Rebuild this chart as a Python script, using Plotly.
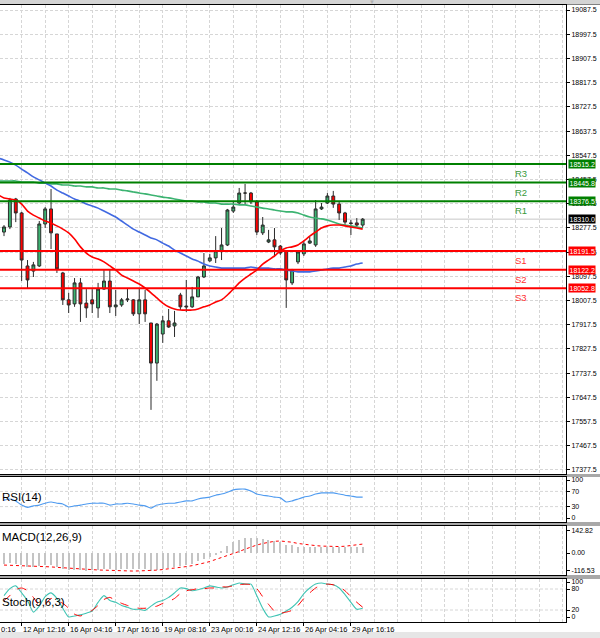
import plotly.graph_objects as go

W, H = 600, 638

# ---------------- data ----------------
candle_idx = list(range(62))
opens = [18262, 18281, 18385, 18333, 18136, 18117, 18136, 18292, 18348, 18255,
         18110, 18010, 17995, 18073, 17998, 18010, 17980, 18050, 18080, 17984,
         17991, 18010, 18010, 17958, 18010, 17924, 17775, 17883, 17932, 17913,
         18028, 17987, 17984, 18021, 18095, 18155, 18166, 18192, 18214, 18340,
         18370, 18407, 18407, 18374, 18259, 18225, 18233, 18210, 18192, 18073,
         18151, 18181, 18221, 18214, 18348, 18370, 18396, 18366, 18333, 18296,
         18296, 18288]
highs = [18288, 18389, 18389, 18337, 18158, 18151, 18303, 18355, 18422, 18255,
         18114, 18036, 18091, 18091, 18050, 18050, 18073, 18121, 18121, 18047,
         18017, 18054, 18013, 18054, 18047, 17924, 17924, 17950, 17976, 17969,
         18036, 18084, 18058, 18099, 18184, 18181, 18247, 18277, 18348, 18374,
         18426, 18441, 18411, 18381, 18318, 18270, 18277, 18214, 18195, 18125,
         18195, 18229, 18244, 18381, 18370, 18407, 18415, 18374, 18337, 18307,
         18314, 18314]
lows = [18247, 18273, 18299, 18080, 18054, 18095, 18132, 18277, 18199, 18110,
        17991, 17961, 17984, 17928, 17943, 17961, 17943, 18047, 17961, 17950,
        17984, 18002, 17950, 17920, 17928, 17601, 17709, 17850, 17906, 17872,
        17972, 17965, 17980, 18021, 18091, 18151, 18147, 18158, 18210, 18333,
        18363, 18363, 18366, 18251, 18251, 18221, 18169, 18177, 17980, 18065,
        18143, 18173, 18218, 18207, 18344, 18366, 18352, 18307, 18288, 18251,
        18281, 18277]
closes = [18281, 18381, 18333, 18158, 18084, 18140, 18292, 18348, 18259, 18125,
          18010, 17991, 18073, 17995, 17980, 17995, 18050, 18080, 17984, 17991,
          18010, 18013, 17958, 18010, 17958, 17775, 17920, 17932, 17909, 17924,
          17984, 17984, 18021, 18095, 18136, 18166, 18192, 18214, 18344, 18355,
          18407, 18407, 18374, 18262, 18288, 18233, 18207, 18184, 18084, 18121,
          18188, 18218, 18229, 18348, 18355, 18396, 18366, 18333, 18299, 18294,
          18288, 18310]

ma_idx = list(range(-1, 62))
ma_red = [18400, 18389, 18385, 18381, 18366, 18340, 18325, 18314, 18303, 18296,
          18285, 18273, 18259, 18236, 18207, 18184, 18169, 18162, 18151, 18136,
          18121, 18102, 18091, 18080, 18069, 18054, 18036, 18017, 17998, 17984,
          17976, 17972, 17972, 17972, 17976, 17984, 17991, 18002, 18010, 18028,
          18050, 18073, 18091, 18106, 18121, 18143, 18158, 18173, 18192, 18203,
          18207, 18214, 18229, 18247, 18262, 18277, 18285, 18288, 18288, 18285,
          18281, 18277, 18273]
ma_blue = [18537, 18530, 18522, 18511, 18496, 18482, 18467, 18456, 18444, 18433,
           18418, 18407, 18396, 18385, 18377, 18366, 18359, 18351, 18340, 18329,
           18318, 18303, 18288, 18273, 18262, 18251, 18240, 18233, 18221, 18210,
           18195, 18184, 18173, 18162, 18154, 18143, 18136, 18132, 18128, 18128,
           18128, 18128, 18128, 18132, 18128, 18128, 18128, 18125, 18125, 18121,
           18117, 18114, 18114, 18114, 18117, 18121, 18125, 18128, 18128, 18132,
           18136, 18143, 18147]
ma_green = [18452, 18452, 18452, 18452, 18448, 18448, 18448, 18444, 18444, 18441,
            18441, 18437, 18437, 18433, 18433, 18430, 18430, 18426, 18426, 18422,
            18422, 18418, 18415, 18411, 18407, 18404, 18400, 18396, 18392, 18389,
            18385, 18381, 18377, 18377, 18374, 18374, 18370, 18370, 18366, 18366,
            18366, 18363, 18363, 18359, 18355, 18351, 18348, 18344, 18340, 18337,
            18337, 18333, 18325, 18318, 18314, 18311, 18307, 18299, 18292, 18288,
            18285, 18281, 18277]

rsi = [47, 50, 45, 34, 28, 32, 34, 39, 42, 39, 37, 29, 32, 34, 37, 39, 39, 39, 34, 37,
       37, 39, 37, 34, 32, 26, 34, 37, 39, 39, 42, 45, 45, 50, 53, 55, 60, 63, 68, 74,
       76, 76, 71, 63, 60, 58, 55, 53, 42, 45, 50, 55, 58, 63, 66, 66, 66, 63, 60, 58,
       55, 55]
macd_hist = [-70, -66, -68, -78, -88, -92, -85, -76, -80, -92, -104, -112, -110, -112,
             -114, -112, -108, -102, -106, -108, -105, -102, -105, -102, -106, -116,
             -110, -102, -98, -92, -84, -78, -68, -54, -40, -26, -10, 15, 45, 70, 85,
             95, 98, 97, 90, 84, 75, 70, 55, 50, 42, 40, 40, 42, 42, 41, 40, 39, 38,
             37, 36, 36]
macd_signal = [-78, -79, -80, -81, -82, -84, -86, -88, -90, -93, -96, -98, -101, -104,
               -106, -108, -110, -111, -113, -114, -115, -116, -117, -116, -115, -113,
               -111, -107, -103, -98, -93, -88, -82, -75, -65, -55, -43, -30, -18, -5,
               10, 25, 40, 52, 62, 70, 76, 78, 76, 70, 62, 56, 52, 48, 45, 43, 42, 42,
               44, 47, 52, 58]
stoch_main = [61, 81, 89, 69, 47, 14, 31, 58, 69, 53, 25, 0, 3, 6, 11, 17, 42, 61, 47, 42,
              33, 28, 22, 22, 19, 31, 42, 47, 56, 69, 83, 81, 75, 78, 83, 89, 86, 83, 86, 92,
              97, 94, 94, 61, 25, 0, 3, 8, 17, 28, 44, 67, 83, 94, 97, 94, 92, 83, 64, 42,
              22, 25]
stoch_signal = [47, 61, 78, 83, 75, 56, 33, 36, 53, 47, 39, 25, 8, 3, 11, 19, 33, 50, 56, 47,
                39, 33, 28, 25, 25, 28, 31, 39, 44, 53, 67, 75, 78, 81, 81, 83, 83, 86, 86, 89,
                92, 94, 92, 81, 58, 36, 17, 11, 14, 19, 33, 53, 69, 83, 92, 94, 92, 86, 75, 58,
                42, 28]

resist_names = ["R1", "R2", "R3"]
resist_levels = [18376.5, 18445.8, 18515.2]
support_names = ["S1", "S2", "S3"]
support_levels = [18191.5, 18122.2, 18052.8]
last_price = 18310.0

price_ticks = [19087.5, 18997.5, 18907.5, 18817.5, 18727.5, 18637.5, 18547.5, 18457.5,
               18367.5, 18277.5, 18187.5, 18097.5, 18007.5, 17917.5, 17827.5, 17737.5,
               17647.5, 17557.5, 17467.5, 17377.5]
rsi_ticks = [100, 70, 30, 0]
rsi_levels = [70, 30]
macd_ticks = [142.82, 0.0, -116.53]
stoch_ticks = [100, 80, 20, 0]
stoch_levels = [80, 20]

date_label_idx = [3, 11, 19, 27, 35, 43, 51, 59]
date_labels = ["12 Apr 12:16", "16 Apr 04:16", "17 Apr 16:16", "19 Apr 08:16",
               "23 Apr 00:16", "24 Apr 12:16", "26 Apr 04:16", "29 Apr 16:16"]
grid_idx = list(range(3, 96, 4))

# ---------------- layout helpers ----------------
FONT = "Liberation Sans, Arial, sans-serif"
def py(ypx):
    return 1 - ypx / H

X_RANGE = [-0.68, 95.58]
panels = {  # pixel top, bottom
    "main": (5, 474), "rsi": (477, 522), "macd": (526, 575), "stoch": (579, 622)}

fig = go.Figure()

fig.add_trace(go.Candlestick(
    x=candle_idx, open=opens, high=highs, low=lows, close=closes,
    increasing=dict(line=dict(color="#2b2b2b", width=1), fillcolor="#3CB371"),
    decreasing=dict(line=dict(color="#2b2b2b", width=1), fillcolor="#FF0000"),
    whiskerwidth=0, showlegend=False, hoverinfo="skip", xaxis="x", yaxis="y"))

for vals, col in [(ma_green, "#3CB371"), (ma_blue, "#4169E1"), (ma_red, "#FF0000")]:
    fig.add_trace(go.Scatter(x=ma_idx, y=vals, mode="lines",
                             line=dict(color=col, width=1.6, shape="spline", smoothing=0.6),
                             showlegend=False, hoverinfo="skip", xaxis="x", yaxis="y"))

fig.add_trace(go.Scatter(x=candle_idx, y=rsi, mode="lines",
                         line=dict(color="#4F9BF0", width=1.1, shape="spline", smoothing=0.5),
                         showlegend=False, xaxis="x2", yaxis="y2"))

fig.add_trace(go.Bar(x=candle_idx, y=macd_hist, width=0.22,
                     marker=dict(color="#C4C4C4", line=dict(width=0)),
                     showlegend=False, xaxis="x3", yaxis="y3"))
fig.add_trace(go.Scatter(x=candle_idx, y=macd_signal, mode="lines",
                         line=dict(color="#FF0000", width=1, dash="dot"),
                         showlegend=False, xaxis="x3", yaxis="y3"))

fig.add_trace(go.Scatter(x=candle_idx, y=stoch_main, mode="lines",
                         line=dict(color="#40C4B4", width=1.1, shape="spline", smoothing=0.6),
                         showlegend=False, xaxis="x4", yaxis="y4"))
fig.add_trace(go.Scatter(x=candle_idx, y=stoch_signal, mode="lines",
                         line=dict(color="#FF0000", width=1, dash="dash", shape="spline", smoothing=0.6),
                         showlegend=False, xaxis="x4", yaxis="y4"))

GRID = "#D6D6D6"
GDASH = "3px,2px"
def xax(anchor, show_ticks=False):
    minor_vals = [g for g in grid_idx if g not in date_label_idx]
    return dict(range=X_RANGE, anchor=anchor, showline=True, linecolor="#000000", linewidth=1,
                mirror=True, tickvals=date_label_idx, showticklabels=False,
                ticks="outside" if show_ticks else "", ticklen=3, tickcolor="#000000",
                showgrid=True, gridcolor=GRID, griddash=GDASH, gridwidth=1, zeroline=False,
                minor=dict(tickvals=minor_vals, showgrid=True, gridcolor=GRID, griddash=GDASH,
                           ticks=""),
                rangeslider=dict(visible=False), fixedrange=True)

def yax(name, rng, tvals, ttext, grid=False):
    top, bot = panels[name]
    return dict(domain=[py(bot), py(top)], range=rng, side="right", tickvals=tvals,
                ticktext=ttext, ticks="outside", ticklen=3, tickcolor="#000000",
                tickfont=dict(family=FONT, size=7, color="#000000"),
                showline=True, linecolor="#000000", linewidth=1, mirror=True,
                showgrid=grid, gridcolor=GRID, griddash=GDASH, zeroline=False, fixedrange=True)

fig.update_layout(
    width=W, height=H, margin=dict(l=0, r=34, t=0, b=0),
    paper_bgcolor="#FFFFFF", plot_bgcolor="#FFFFFF", showlegend=False, bargap=0,
    xaxis=xax("y"), xaxis2=dict(xax("y2"), matches="x"),
    xaxis3=dict(xax("y3"), matches="x"), xaxis4=dict(xax("y4", True), matches="x"),
    yaxis=yax("main", [17362.6, 19106.1], price_ticks, [f"{v:.1f}" for v in price_ticks], grid=True),
    yaxis2=yax("rsi", [-10.5, 107.9], rsi_ticks, [str(v) for v in rsi_ticks]),
    yaxis3=yax("macd", [-142.5, 175.2], macd_ticks, [f"{v:.2f}" for v in macd_ticks]),
    yaxis4=yax("stoch", [-14.3, 108.6], stoch_ticks, [str(v) for v in stoch_ticks]),
    font=dict(family=FONT, size=8, color="#000000"),
)

shapes = []
# separators / strips
for y0, y1, col in [(0, 4, "#D4D4D4"), (4, 5, "#808080"), (474, 477, "#A8A8A8"),
                    (522, 526, "#A8A8A8"), (575, 579, "#A8A8A8"), (632, 638, "#E6E6E6")]:
    shapes.append(dict(type="rect", xref="paper", yref="paper", x0=0, x1=W / 566,
                       y0=py(y1), y1=py(y0), fillcolor=col, line=dict(width=0), layer="below"))
# last price line
shapes.append(dict(type="line", xref="paper", yref="y", x0=0, x1=1, y0=last_price, y1=last_price,
                   line=dict(color="#C8C8C8", width=1), layer="below"))
for lv in resist_levels:
    shapes.append(dict(type="line", xref="paper", yref="y", x0=0, x1=1, y0=lv, y1=lv,
                       line=dict(color="#008000", width=2)))
for lv in support_levels:
    shapes.append(dict(type="line", xref="paper", yref="y", x0=0, x1=1, y0=lv, y1=lv,
                       line=dict(color="#FF0000", width=2)))
for lv in rsi_levels:
    shapes.append(dict(type="line", xref="paper", yref="y2", x0=0, x1=1, y0=lv, y1=lv,
                       line=dict(color=GRID, width=1, dash=GDASH), layer="below"))
for lv in stoch_levels:
    shapes.append(dict(type="line", xref="paper", yref="y4", x0=0, x1=1, y0=lv, y1=lv,
                       line=dict(color=GRID, width=1, dash=GDASH), layer="below"))
fig.update_layout(shapes=shapes)

ann = []
for nm, lv in zip(resist_names, resist_levels):
    ann.append(dict(x=88, xref="x", y=lv, yref="y", text=nm, showarrow=False, xanchor="center",
                    yanchor="top", yshift=-2, font=dict(family=FONT, size=9.5, color="#3A9A3A")))
    ann.append(dict(x=1, xref="paper", y=lv, yref="y", text=f"{lv:.1f}", showarrow=False,
                    xanchor="left", yanchor="middle", xshift=2, bgcolor="#008000", borderpad=0.5,
                    font=dict(family=FONT, size=7, color="#FFFFFF")))
for nm, lv in zip(support_names, support_levels):
    ann.append(dict(x=88, xref="x", y=lv, yref="y", text=nm, showarrow=False, xanchor="center",
                    yanchor="top", yshift=-2, font=dict(family=FONT, size=9.5, color="#FF3030")))
    ann.append(dict(x=1, xref="paper", y=lv, yref="y", text=f"{lv:.1f}", showarrow=False,
                    xanchor="left", yanchor="middle", xshift=2, bgcolor="#FF0000", borderpad=0.5,
                    font=dict(family=FONT, size=7, color="#FFFFFF")))
ann.append(dict(x=1, xref="paper", y=last_price, yref="y", text=f"{last_price:.1f}", showarrow=False,
                xanchor="left", yanchor="middle", xshift=2, bgcolor="#000000", borderpad=0.5,
                font=dict(family=FONT, size=7, color="#FFFFFF")))

for txt, ypx in [("RSI(14)", 497), ("MACD(12,26,9)", 537), ("Stoch(9,6,3)", 602)]:
    ann.append(dict(x=0, xref="paper", y=py(ypx), yref="paper", text=txt, showarrow=False,
                    xanchor="left", yanchor="middle", xshift=0,
                    font=dict(family=FONT, size=11.5, color="#000000")))

for i, t in zip(date_label_idx, date_labels):
    ann.append(dict(x=i, xref="x4", y=py(629), yref="paper", text=t, showarrow=False,
                    xanchor="left", yanchor="middle", xshift=-1,
                    font=dict(family=FONT, size=7.5, color="#000000")))
ann.append(dict(x=X_RANGE[0], xref="x4", y=py(629), yref="paper", text="0:16", showarrow=False,
                xanchor="left", yanchor="middle", xshift=-1,
                font=dict(family=FONT, size=7.5, color="#000000")))
ann.append(dict(x=372 / 566, xref="paper", y=py(2), yref="paper", text="▼", showarrow=False,
                yanchor="middle", font=dict(family=FONT, size=6, color="#B0B0B0")))
fig.update_layout(annotations=ann)

fig.write_html("out.html", config={"displayModeBar": False},
               post_script="document.body.style.margin='0px';document.body.style.overflow='hidden';")
